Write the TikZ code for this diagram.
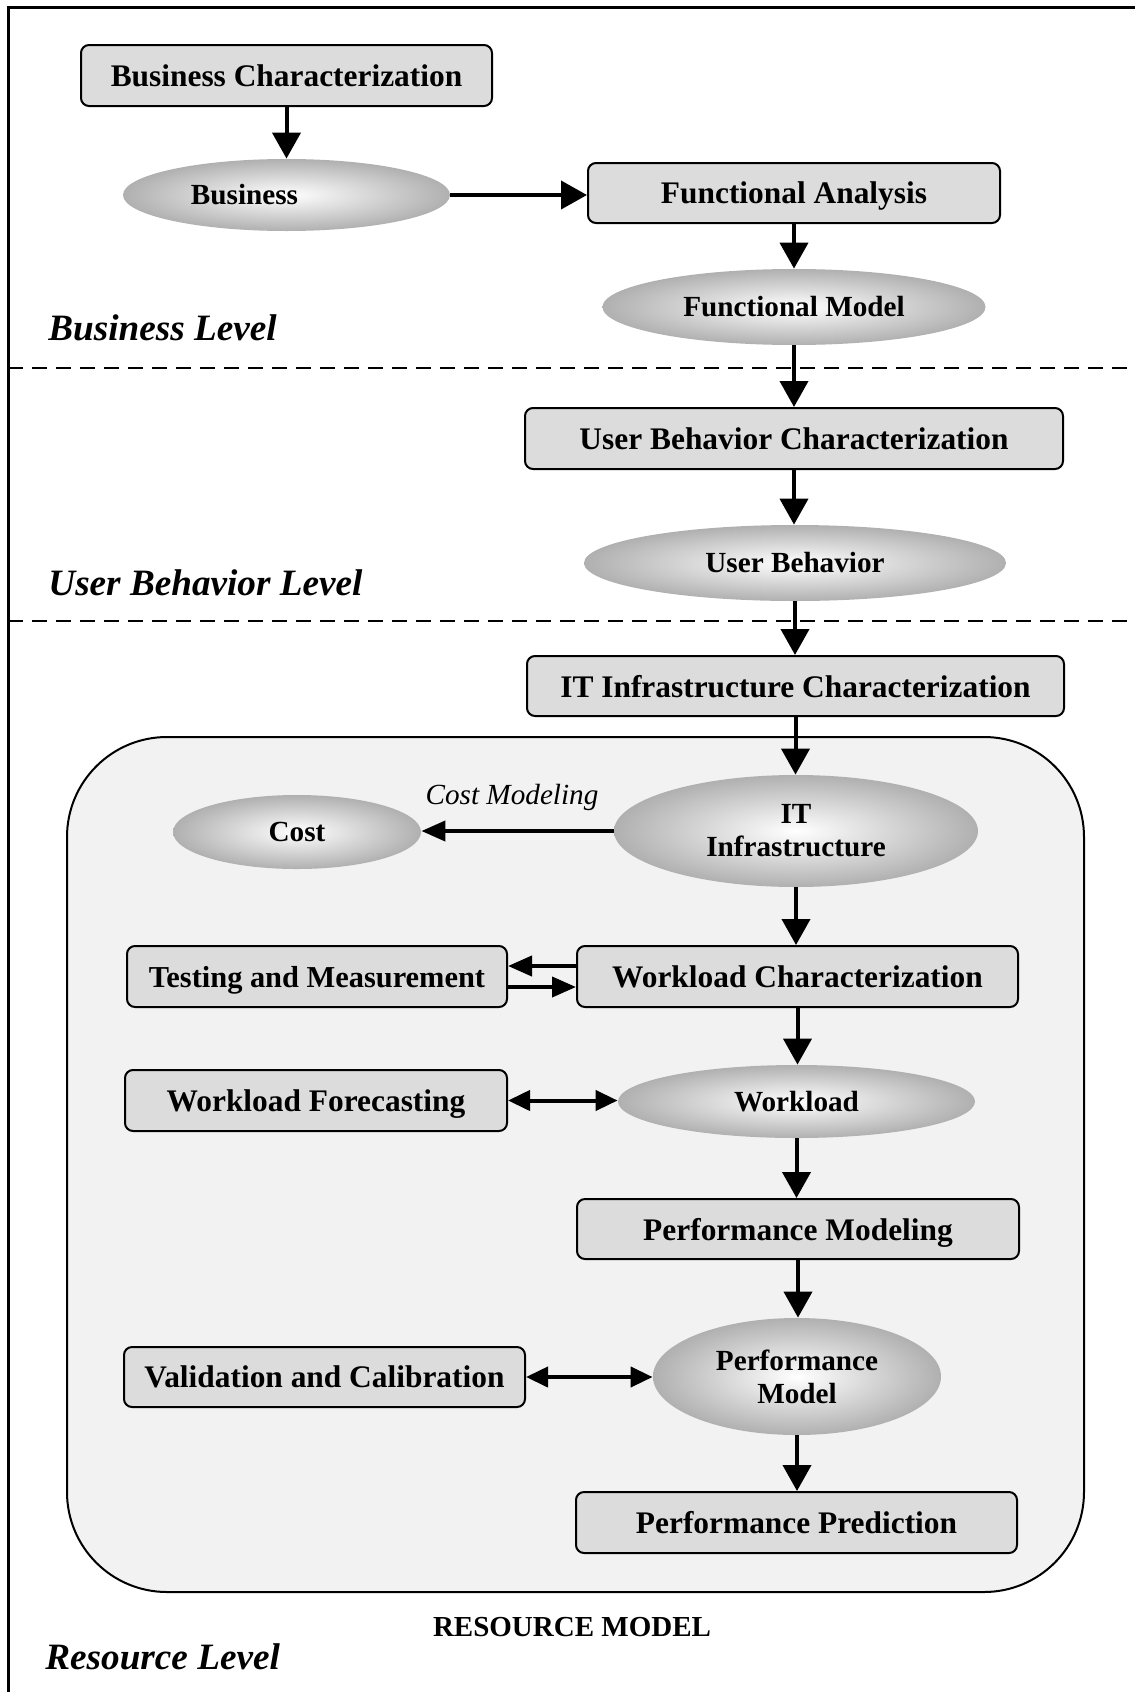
\documentclass[tikz,border=0pt]{standalone}
\usepackage{fontspec}
\setmainfont{Liberation Serif}
\usetikzlibrary{arrows.meta,shapes.geometric}
\definecolor{boxfill}{HTML}{DCDCDC}
\definecolor{regfill}{HTML}{F2F2F2}
\begin{document}
\begin{tikzpicture}[x=0.5pt,y=-0.5pt,
  box/.style={draw, line width=1pt, rounded corners=4pt, fill=boxfill, inner sep=0pt, text depth=0pt,
    font=\fontsize{15.7}{18}\selectfont\bfseries},
  ell/.style={ellipse, inner sep=0pt, inner color=white, outer color=gray!62,
    font=\fontsize{14.6}{16.5}\selectfont\bfseries, align=center},
  arr/.style={-{Triangle[length=13pt,width=14pt]}, line width=2pt},
  harr/.style={-{Triangle[length=12pt,width=10pt]}, line width=2pt},
  darr/.style={{Triangle[length=11pt,width=10pt]}-{Triangle[length=11pt,width=10pt]}, line width=2pt},
  lvl/.style={anchor=base west, inner sep=0pt, font=\fontsize{18.6}{22}\selectfont\bfseries\itshape},
  dashline/.style={dash pattern=on 7.5pt off 4.5pt, line width=1pt}
]
\useasboundingbox (0,0) rectangle (1135,1692);
% frame
\draw[line width=1.5pt] (8,1692) -- (8,7) -- (1135,7);
% level separators
\draw[dashline] (8,368) -- (1135,368);
\draw[dashline] (8,621) -- (1135,621);
% resource model region
\draw[fill=regfill, line width=1pt, rounded corners=50pt] (67,737) rectangle (1084,1592);

% nodes
\node[box, minimum width=205.5pt, minimum height=30.5pt] (bc) at (286.5,75.5) {Business Characterization};
\node[ell, minimum width=163.5pt, minimum height=36pt,
  label={[xshift=-21pt, font=\fontsize{14.6}{16.5}\selectfont\bfseries]center:Business}] (bus) at (286.5,195) {};
\node[box, minimum width=206pt, minimum height=30pt] (fa) at (794,193) {Functional Analysis};
\node[ell, minimum width=191.5pt, minimum height=38pt] (fm) at (794,307) {Functional Model};
\node[box, minimum width=269pt, minimum height=30.5pt] (ubc) at (794,438.5) {User Behavior Characterization};
\node[ell, minimum width=211pt, minimum height=38pt] (ub) at (795,563) {User Behavior};
\node[box, minimum width=268.5pt, minimum height=30pt] (itc) at (795.5,686) {IT Infrastructure Characterization};
\node[ell, minimum width=182pt, minimum height=56pt] (it) at (796,831) {IT\\Infrastructure};
\node[ell, minimum width=124pt, minimum height=37pt] (cost) at (297,832) {Cost};
\node[box, minimum width=190pt, minimum height=30.5pt, font=\fontsize{15.2}{18}\selectfont\bfseries] (tm) at (317,976.5) {Testing and Measurement};
\node[box, minimum width=220.5pt, minimum height=30.5pt] (wc) at (797.5,976.5) {Workload Characterization};
\node[box, minimum width=191pt, minimum height=30.5pt] (wf) at (316,1100.5) {Workload Forecasting};
\node[ell, minimum width=178.5pt, minimum height=36.5pt] (wl) at (796.5,1101.5) {Workload};
\node[box, minimum width=221pt, minimum height=30pt] (pmg) at (798,1229) {Performance Modeling};
\node[ell, minimum width=144pt, minimum height=58.5pt] (pm) at (797,1376.5) {Performance\\Model};
\node[box, minimum width=200.5pt, minimum height=30pt] (vc) at (324.5,1377) {Validation and Calibration};
\node[box, minimum width=220.5pt, minimum height=30.5pt] (pp) at (796.5,1522.5) {Performance Prediction};

% texts
\node[font=\fontsize{14.6}{16.5}\selectfont\itshape, inner sep=0pt] (cml) at (512,797) {Cost Modeling};
\node[font=\fontsize{14.5}{16.5}\selectfont\bfseries, inner sep=0pt] (rm) at (572,1627) {RESOURCE MODEL};
\node[lvl] (bl) at (48,340) {Business Level};
\node[lvl] (ul) at (48,595) {User Behavior Level};
\node[lvl] (rl) at (45,1669) {Resource Level};

% connectors
\draw[arr] (bc.south) -- (bus.north);
\draw[arr] (bus.east) -- (bus.east -| fa.west);
\draw[arr] (fa.south) -- (fa.south |- fm.north);
\draw[arr] (fm.south) -- (fm.south |- ubc.north);
\draw[arr] (ubc.south) -- (ubc.south |- ub.north);
\draw[arr] (ub.south) -- (ub.south |- itc.north);
\draw[arr] (itc.south) -- (itc.south |- it.north);
\draw[harr] (it.west) -- (it.west -| cost.east);
\draw[arr] (it.south) -- (it.south |- wc.north);
\draw[harr] ([yshift=5.25pt]wc.west) -- ([yshift=5.25pt]tm.east);
\draw[harr] ([yshift=-5.25pt]tm.east) -- ([yshift=-5.25pt]wc.west);
\draw[arr] (wc.south) -- (wc.south |- wl.north);
\draw[darr] (wf.east) -- (wf.east -| wl.west);
\draw[arr] (wl.south) -- (wl.south |- pmg.north);
\draw[arr] (pmg.south) -- (pmg.south |- pm.north);
\draw[darr] (vc.east) -- (vc.east -| pm.west);
\draw[arr] (pm.south) -- (pm.south |- pp.north);
\end{tikzpicture}
\end{document}
